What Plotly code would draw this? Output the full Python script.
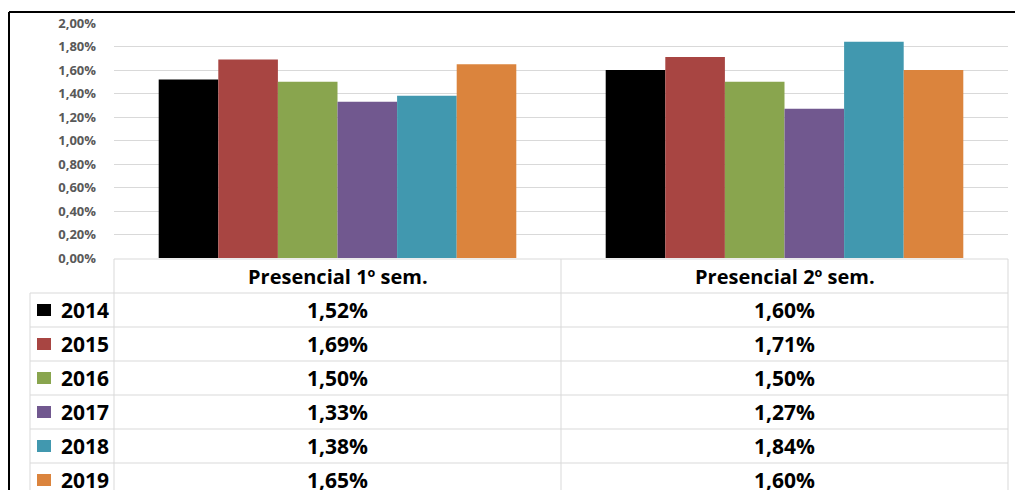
import plotly.graph_objects as go

W, H = 1015, 490

categories = ["Presencial 1º sem.", "Presencial 2º sem."]
years = ["2014", "2015", "2016", "2017", "2018", "2019"]
values = {
    "2014": [1.52, 1.60],
    "2015": [1.69, 1.71],
    "2016": [1.50, 1.50],
    "2017": [1.33, 1.27],
    "2018": [1.38, 1.84],
    "2019": [1.65, 1.60],
}
colors = ["#000000", "#A84542", "#89A54E", "#71588F", "#4198AF", "#DB843D"]
y_ticks = [0, 0.2, 0.4, 0.6, 0.8, 1.0, 1.2, 1.4, 1.6, 1.8, 2.0]

FONT = "Open Sans"


def fx(px):
    return px / W


def fy(py):
    return 1 - py / H


def fmt(v):
    return f"{v:.2f}%".replace(".", ",")


# layout geometry (pixels)
plot_left, plot_right = 114, 1008
plot_top, plot_bottom = 23, 258
leg_left = 30
head_top, head_bottom = 259, 293
row_h = 34
col_edges = [plot_left, (plot_left + plot_right) / 2, plot_right]

fig = go.Figure()
for i, yr in enumerate(years):
    fig.add_trace(go.Bar(
        x=categories, y=values[yr], name=yr,
        marker=dict(color=colors[i], line=dict(width=0)),
        showlegend=False,
    ))

shapes = []
annotations = []
grid = "#D9D9D9"

# table lines
shapes.append(dict(type="line", xref="paper", yref="paper",
                   x0=fx(plot_left), x1=fx(plot_right), y0=fy(head_top), y1=fy(head_top),
                   line=dict(color=grid, width=1)))
for r in range(len(years)):
    yy = head_bottom + r * row_h
    shapes.append(dict(type="line", xref="paper", yref="paper",
                       x0=fx(leg_left), x1=fx(plot_right), y0=fy(yy), y1=fy(yy),
                       line=dict(color=grid, width=1)))
shapes.append(dict(type="line", xref="paper", yref="paper",
                   x0=fx(leg_left), x1=fx(leg_left), y0=fy(head_bottom), y1=0,
                   line=dict(color=grid, width=1)))
for xe in col_edges:
    shapes.append(dict(type="line", xref="paper", yref="paper",
                       x0=fx(xe), x1=fx(xe), y0=fy(head_top), y1=0,
                       line=dict(color=grid, width=1)))

# header
for c, cat in enumerate(categories):
    cx = (col_edges[c] + col_edges[c + 1]) / 2
    annotations.append(dict(xref="paper", yref="paper", x=fx(cx), y=fy((head_top + head_bottom) / 2),
                            text=f"<b>{cat}</b>", showarrow=False, xanchor="center", yanchor="middle",
                            font=dict(family=FONT, size=20, color="#000000")))

# rows
for r, yr in enumerate(years):
    cy = head_bottom + r * row_h + row_h / 2
    shapes.append(dict(type="rect", xref="paper", yref="paper",
                       x0=fx(37), x1=fx(51), y0=fy(cy - 6), y1=fy(cy + 6),
                       fillcolor=colors[r], line=dict(width=0)))
    annotations.append(dict(xref="paper", yref="paper", x=fx(59), y=fy(cy),
                            text=f"<b>{yr}</b>", showarrow=False, xanchor="left", yanchor="middle",
                            font=dict(family=FONT, size=21, color="#000000")))
    for c in range(len(categories)):
        cx = (col_edges[c] + col_edges[c + 1]) / 2
        annotations.append(dict(xref="paper", yref="paper", x=fx(cx), y=fy(cy),
                                text=f"<b>{fmt(values[yr][c])}</b>", showarrow=False,
                                xanchor="center", yanchor="middle",
                                font=dict(family=FONT, size=21, color="#000000")))

# outer frame (top & left)
shapes.append(dict(type="line", xref="paper", yref="paper", x0=fx(9), x1=1, y0=fy(12), y1=fy(12),
                   line=dict(color="#000000", width=2)))
shapes.append(dict(type="line", xref="paper", yref="paper", x0=fx(9), x1=fx(9), y0=fy(12), y1=0,
                   line=dict(color="#000000", width=2)))

fig.update_layout(
    width=W, height=H,
    autosize=False,
    margin=dict(l=0, r=0, t=0, b=0, pad=0, autoexpand=False),
    paper_bgcolor="white", plot_bgcolor="white",
    separators=",.",
    barmode="group", bargap=0.2, bargroupgap=0,
    xaxis=dict(domain=[fx(plot_left), fx(plot_right)], showticklabels=False,
               showgrid=False, zeroline=False, showline=False, ticks="", automargin=False),
    yaxis=dict(domain=[fy(plot_bottom), fy(plot_top)], range=[0, 2],
               tickmode="array", tickvals=y_ticks, ticktext=[fmt(t) for t in y_ticks],
               showgrid=True, gridcolor=grid, gridwidth=1, zeroline=False, showline=False,
               ticklabelstandoff=17, automargin=False,
               tickfont=dict(family=FONT, size=13, color="#595959", weight="bold")),
    shapes=shapes,
    annotations=annotations,
)

fig.write_html("out.html")
